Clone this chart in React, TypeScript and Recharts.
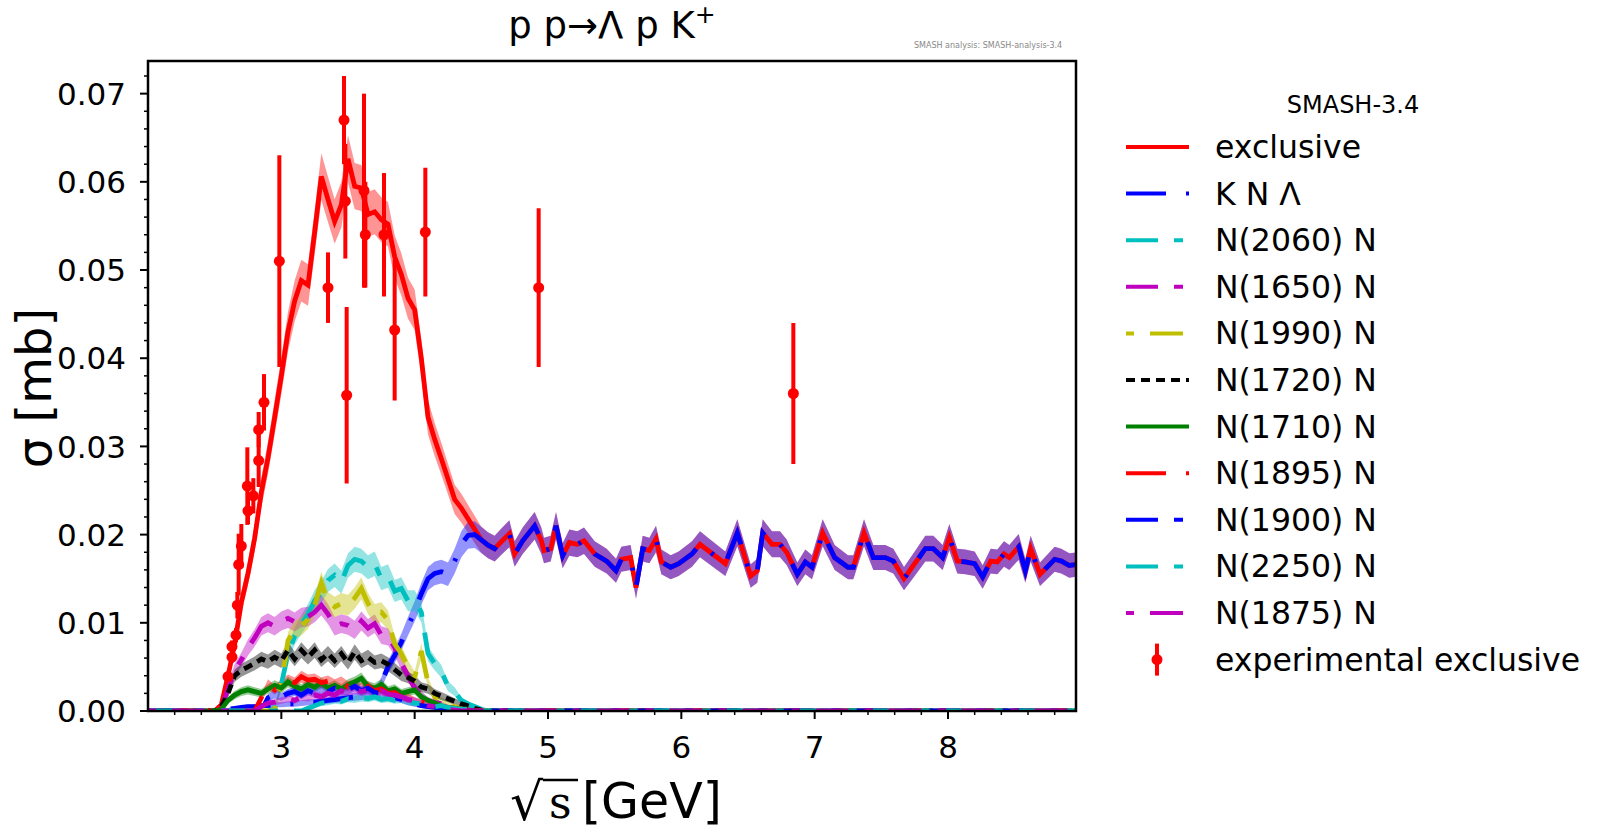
import React from "react";
import { ComposedChart, Line, Area, Scatter, ErrorBar, XAxis, YAxis } from "recharts";

// sqrt(s) grid [GeV] for all channels below 4.65 GeV
const GRID_X = [
  2.0, 2.5,
  2.55, 2.6, 2.65, 2.7, 2.75, 2.8, 2.85, 2.9, 2.95, 3.0,
  3.05, 3.1, 3.15, 3.2, 3.25, 3.3, 3.35, 3.4, 3.45, 3.5,
  3.55, 3.6, 3.65, 3.7, 3.75, 3.8, 3.85, 3.9, 3.95, 4.0,
  4.05, 4.1, 4.15, 4.2, 4.25, 4.3, 4.35, 4.4, 4.45, 4.5,
  4.55, 4.6,
];

// all cross sections in µb (axis prints mb)
const EXCLUSIVE_LOW = [
  0, 0,
  0.7, 4.0, 7.6, 12.3, 15.6, 19.6, 24.8, 28.7, 33.3, 38.0,
  43.0, 46.5, 48.8, 48.3, 54.3, 60.6, 58.0, 55.5, 57.4, 62.6,
  59.5, 59.3, 56.3, 56.6, 55.7, 55.2, 51.5, 49.5, 46.8, 45.5,
  40.0, 33.3, 30.8, 28.6, 26.3, 24.0, 23.0, 21.8, 20.6, 19.4,
  18.8, 18.4,
];
const KNL_LOW = [
  0, 0,
  0, 0.2, 0.3, 0.4, 0.5, 0.5, 0.6, 0.6, 0.7, 0.7,
  0.8, 0.8, 0.9, 1.0, 1.0, 1.1, 1.2, 1.3, 1.4, 1.5,
  1.6, 1.7, 1.8, 2.0, 3.2, 5.0, 6.3, 7.8, 9.6, 11.3,
  13.3, 15.0, 15.6, 15.8, 15.5, 17.0, 18.9, 19.9, 20.0, 19.4,
  18.8, 18.4,
];
const N2060 = [
  0, 0,
  0, 0, 0, 0, 0, 0, 0, 0, 0.3, 3.0,
  6.5, 8.5, 9.8, 11.0, 12.5, 13.5, 14.8, 15.4, 14.6, 16.5,
  17.2, 17.0, 16.3, 16.7, 15.0, 15.3, 13.6, 13.9, 12.5, 12.5,
  11.2, 6.5, 5.4, 4.5, 2.8, 2.2, 1.2, 0.8, 0.5, 0.2,
  0, 0,
];
const N1650 = [
  0, 0,
  0.3, 2.5, 4.6, 5.8, 7.2, 8.3, 9.6, 10.0, 9.6, 10.2,
  10.5, 10.1, 10.6, 10.7, 11.2, 12.0, 11.0, 9.6, 9.9, 9.7,
  9.2, 10.2, 9.4, 9.9, 8.6, 8.4, 7.2, 5.4, 4.0, 2.6,
  1.8, 1.2, 1.0, 0.8, 0.5, 0.3, 0.2, 0.1, 0, 0,
  0, 0,
];
const N1990 = [
  0, 0,
  0, 0, 0, 0, 0, 0, 0, 0, 0.2, 3.0,
  8.0, 9.2, 9.6, 10.4, 12.0, 14.5, 12.3, 11.8, 12.2, 12.0,
  12.8, 13.9, 12.2, 11.0, 11.2, 10.3, 7.6, 6.5, 5.0, 3.8,
  6.8, 3.2, 1.6, 1.2, 0.8, 0.5, 0.3, 0.1, 0, 0,
  0, 0,
];
const N1720 = [
  0, 0,
  0.5, 2.0, 4.0, 4.6, 5.0, 5.4, 5.9, 5.6, 6.1, 5.7,
  6.9, 5.9, 6.9, 6.1, 6.9, 5.8, 6.5, 5.7, 6.5, 5.5,
  6.7, 5.7, 6.1, 5.5, 5.7, 5.3, 4.7, 4.1, 3.8, 3.4,
  2.7, 2.5, 2.0, 1.7, 1.4, 1.1, 0.8, 0.6, 0.3, 0.1,
  0, 0,
];
const N1710 = [
  0, 0,
  0.2, 1.2, 1.8, 2.2, 2.4, 2.2, 2.0, 2.5, 2.9, 2.6,
  3.3, 2.8, 2.5, 3.0, 2.7, 3.2, 2.6, 2.9, 2.5, 3.0,
  3.3, 3.7, 2.8, 2.6, 3.0, 2.3, 2.5, 2.0, 2.2, 2.4,
  1.6, 1.2, 0.9, 0.6, 0.4, 0.3, 0.2, 0.1, 0, 0,
  0, 0,
];
const N1895 = [
  0, 0,
  0, 0, 0, 0, 0, 0, 1.5, 3.0, 2.4, 3.0,
  3.5, 3.2, 3.9, 3.5, 3.6, 3.2, 3.4, 3.0, 3.3, 2.8,
  3.0, 2.6, 2.8, 2.3, 2.5, 2.0, 2.1, 1.6, 1.6, 1.2,
  1.0, 0.8, 0.8, 0.5, 0.4, 0.3, 0.2, 0.1, 0, 0,
  0, 0,
];
const N1900 = [
  0, 0,
  0, 0, 0, 0, 0, 0, 0, 1.5, 1.9, 1.6,
  2.0, 2.2, 1.8, 2.3, 2.0, 2.5, 2.2, 2.6, 2.3, 2.4,
  2.8, 2.3, 2.6, 2.1, 2.0, 1.8, 1.5, 1.3, 1.0, 0.8,
  0.6, 0.5, 0.4, 0.3, 0.2, 0.1, 0, 0, 0, 0,
  0, 0,
];
const N2250 = [
  0, 0,
  0, 0, 0, 0, 0, 0, 0, 0, 0, 0,
  0, 0, 0, 0.3, 0.6, 0.9, 1.0, 1.2, 1.1, 1.4,
  1.3, 1.5, 1.4, 1.6, 1.3, 1.4, 1.2, 1.3, 1.0, 0.9,
  0.8, 0.6, 0.5, 0.6, 0.4, 0.3, 0.2, 0.2, 0.1, 0,
  0, 0,
];
const N1875 = [
  0, 0,
  0, 0, 0, 0, 0, 0, 0.5, 0.9, 1.0, 1.2,
  1.4, 1.2, 1.6, 1.5, 1.8, 1.6, 2.0, 1.8, 2.3, 2.1,
  2.5, 2.2, 2.4, 2.0, 2.3, 1.9, 1.8, 1.6, 1.3, 1.2,
  0.9, 0.6, 0.5, 0.3, 0.2, 0.1, 0, 0, 0, 0,
  0, 0,
];

// above 4.65 GeV exclusive and K N Λ are the same curve
const TAIL_X = [
  4.65, 4.71, 4.75, 4.81, 4.9, 4.95, 4.97, 5.02, 5.06, 5.11,
  5.16, 5.22, 5.27, 5.35, 5.44, 5.51, 5.55, 5.62, 5.66, 5.71,
  5.76, 5.81, 5.85, 5.92, 5.98, 6.08, 6.14, 6.2, 6.33, 6.42,
  6.52, 6.57, 6.61, 6.68, 6.74, 6.79, 6.87, 6.93, 6.98, 7.06,
  7.15, 7.25, 7.29, 7.37, 7.44, 7.53, 7.59, 7.67, 7.75, 7.83,
  7.89, 7.96, 8.01, 8.07, 8.13, 8.2, 8.26, 8.32, 8.37, 8.42,
  8.46, 8.53, 8.58, 8.62, 8.69, 8.8, 8.85, 8.91, 8.96,
];
const TAIL_Y = [
  19.2, 20.1, 17.8, 19.3, 21.0, 19.3, 18.2, 18.4, 21.0, 17.6,
  19.1, 18.9, 19.3, 17.8, 17.0, 15.9, 17.2, 17.4, 14.0, 18.4,
  18.2, 19.5, 16.9, 16.3, 16.7, 17.8, 18.9, 18.2, 16.7, 20.2,
  15.3, 15.9, 20.2, 18.9, 18.9, 18.0, 15.5, 16.9, 16.3, 20.2,
  17.4, 16.3, 16.3, 20.2, 17.4, 17.4, 17.0, 15.0, 16.7, 18.4,
  18.4, 17.4, 19.7, 17.0, 16.9, 16.7, 15.2, 17.0, 16.9, 17.8,
  17.4, 18.6, 15.9, 18.4, 15.5, 17.2, 17.0, 16.5, 16.6,
];
// resonance channels stay at zero out to the right edge
const END_X = 8.96;

const EXP_X = [2.6, 2.63, 2.63, 2.66, 2.67, 2.68, 2.7, 2.745, 2.75, 2.79, 2.83, 2.83, 2.87, 2.985, 3.35, 3.47, 3.48, 3.49, 3.62, 3.63, 3.77, 3.85, 4.08, 4.93, 6.84];
const EXP_Y = [3.9, 6.1, 7.3, 8.6, 12.0, 16.6, 18.7, 25.5, 22.7, 24.4, 28.4, 31.9, 35.0, 51.0, 48.0, 67.0, 57.8, 35.8, 59.0, 54.0, 54.0, 43.2, 54.3, 48.0, 36.0];
const EXP_ERR = [0.5, 0.6, 0.7, 0.8, 1.5, 3.5, 2.5, 4.4, 1.5, 2.0, 3.0, 2.0, 3.2, 12.0, 4.0, 5.0, 6.5, 10.0, 11.0, 6.0, 7.0, 8.0, 7.3, 9.0, 8.0];

const X_MAJOR = [3, 4, 5, 6, 7, 8];
const X_MINOR = [2.2, 2.4, 2.6, 2.8, 3.2, 3.4, 3.6, 3.8, 4.2, 4.4, 4.6, 4.8, 5.2, 5.4, 5.6, 5.8, 6.2, 6.4, 6.6, 6.8, 7.2, 7.4, 7.6, 7.8, 8.2, 8.4, 8.6, 8.8];
const Y_MAJOR = [0, 10, 20, 30, 40, 50, 60, 70];
const Y_MINOR = [2, 4, 6, 8, 12, 14, 16, 18, 22, 24, 26, 28, 32, 34, 36, 38, 42, 44, 46, 48, 52, 54, 56, 58, 62, 64, 66, 68, 72];

// shaded bands are about 0.34*sqrt(sigma[µb]) wide on each side
const BAND_K = 0.34;

const X_DOMAIN = [2, 8.96];
const PLOT_LEFT = 148;
const PLOT_TOP = 61;
const PLOT_W = 928;
const PLOT_H = 650;
const PLOT_BOTTOM = PLOT_TOP + PLOT_H;

const FONT = "DejaVu Sans";
const TICK_FONT = 31;
const LEG_FONT = 31.5;

const LOW_PLUS_END = [...GRID_X, END_X];
const FULL_X = [...GRID_X, ...TAIL_X];

const SERIES = [
  { name: "exclusive", color: "#ff0000", dash: undefined, xs: FULL_X, ys: [...EXCLUSIVE_LOW, ...TAIL_Y] },
  { name: "K N Λ", color: "#0000ff", dash: "40 20 3 20", xs: FULL_X, ys: [...KNL_LOW, ...TAIL_Y] },
  { name: "N(2060) N", color: "#00bfbf", dash: "32 16 9 16", xs: LOW_PLUS_END, ys: [...N2060, 0] },
  { name: "N(1650) N", color: "#bf00bf", dash: "32 16 9 16", xs: LOW_PLUS_END, ys: [...N1650, 0] },
  { name: "N(1990) N", color: "#bfbf00", dash: "8 16 33 16", xs: LOW_PLUS_END, ys: [...N1990, 0] },
  { name: "N(1720) N", color: "#000000", dash: "9 6", xs: LOW_PLUS_END, ys: [...N1720, 0] },
  { name: "N(1710) N", color: "#008000", dash: undefined, xs: LOW_PLUS_END, ys: [...N1710, 0] },
  { name: "N(1895) N", color: "#ff0000", dash: "40 20 3 20", xs: LOW_PLUS_END, ys: [...N1895, 0] },
  { name: "N(1900) N", color: "#0000ff", dash: "32 16 9 16", xs: LOW_PLUS_END, ys: [...N1900, 0] },
  { name: "N(2250) N", color: "#00bfbf", dash: "32 16 9 16", xs: LOW_PLUS_END, ys: [...N2250, 0] },
  { name: "N(1875) N", color: "#bf00bf", dash: "8 16 33 16", xs: LOW_PLUS_END, ys: [...N1875, 0] },
];

const seriesRows = SERIES.map((s) =>
  s.xs.map((x, i) => {
    const v = s.ys[i];
    const e = BAND_K * Math.sqrt(v);
    return { x, v, band: [v - e, v + e] };
  })
);

const expRows = EXP_X.map((x, i) => ({ x, y: EXP_Y[i], err: EXP_ERR[i] }));

const XTick = (props: any) => {
  const { x, payload } = props;
  const major = X_MAJOR.includes(payload.value);
  return (
    <g>
      <line x1={x} x2={x} y1={PLOT_BOTTOM} y2={PLOT_BOTTOM + (major ? 8 : 4)} stroke="#000" strokeWidth={major ? 2 : 1.5} />
      {major && (
        <text x={x} y={PLOT_BOTTOM + 24} dy="0.74em" textAnchor="middle" fontSize={TICK_FONT} fontFamily={FONT} fill="#000">
          {payload.value}
        </text>
      )}
    </g>
  );
};

const YTick = (props: any) => {
  const { y, payload } = props;
  const major = Y_MAJOR.includes(payload.value);
  return (
    <g>
      <line x1={PLOT_LEFT - (major ? 8 : 4)} x2={PLOT_LEFT} y1={y} y2={y} stroke="#000" strokeWidth={major ? 2 : 1.5} />
      {major && (
        <text x={PLOT_LEFT - 22} y={y} dy="0.36em" textAnchor="end" fontSize={TICK_FONT} fontFamily={FONT} fill="#000">
          {(payload.value / 1000).toFixed(2)}
        </text>
      )}
    </g>
  );
};

const LEG_Y0 = 147;
const LEG_DY = 46.6;

export default function App() {
  return (
    <div style={{ position: "absolute", left: 0, top: 0, width: 1600, height: 836, fontFamily: FONT, background: "#fff" }}>
      <ComposedChart
        width={1600}
        height={836}
        margin={{ top: PLOT_TOP, right: 1600 - PLOT_LEFT - PLOT_W, bottom: 836 - PLOT_BOTTOM - 60, left: PLOT_LEFT - 100 }}
      >
        <XAxis
          dataKey="x"
          type="number"
          domain={X_DOMAIN}
          allowDataOverflow
          ticks={[...X_MAJOR, ...X_MINOR]}
          interval={0}
          tick={<XTick />}
          tickLine={false}
          axisLine={false}
          height={60}
        />
        <YAxis
          type="number"
          domain={[0, 73.7]}
          allowDataOverflow
          ticks={[...Y_MAJOR, ...Y_MINOR]}
          interval={0}
          tick={<YTick />}
          tickLine={false}
          axisLine={false}
          width={100}
        />
        {SERIES.map((s, i) => (
          <Area
            key={`band-${s.name}-${i}`}
            data={seriesRows[i]}
            dataKey="band"
            type="linear"
            stroke="none"
            fill={s.color}
            fillOpacity={0.42}
            activeDot={false}
            isAnimationActive={false}
          />
        ))}
        {SERIES.map((s, i) => (
          <Line
            key={`line-${s.name}-${i}`}
            data={seriesRows[i]}
            dataKey="v"
            type="linear"
            stroke={s.color}
            strokeWidth={4.8}
            strokeDasharray={s.dash}
            dot={false}
            activeDot={false}
            isAnimationActive={false}
          />
        ))}
        <Scatter
          data={expRows}
          dataKey="y"
          fill="#ff0000"
          isAnimationActive={false}
          shape={(p: any) => <circle cx={p.cx} cy={p.cy} r={5.5} fill="#ff0000" />}
        >
          <ErrorBar dataKey="err" direction="y" width={0} stroke="#ff0000" strokeWidth={4} />
        </Scatter>
      </ComposedChart>

      <svg
        width={1600}
        height={836}
        style={{ position: "absolute", left: 0, top: 0, pointerEvents: "none" }}
        fontFamily={FONT}
      >
        <rect x={PLOT_LEFT} y={PLOT_TOP} width={PLOT_W} height={PLOT_H} fill="none" stroke="#000" strokeWidth={2.5} />

        <text x={PLOT_LEFT + PLOT_W / 2} y={38} textAnchor="middle" fontSize={37} fill="#000">
          p p→Λ p K<tspan dy={-15} fontSize={25}>+</tspan>
        </text>
        <text x={914} y={48} fontSize={8} fill="#888">
          SMASH analysis: SMASH-analysis-3.4
        </text>

        <text transform="translate(34 388) rotate(-90)" textAnchor="middle" dy="0.35em" fontSize={48} fill="#000">
          σ [mb]
        </text>

        <text x={510} y={820} fontSize={52} fill="#000">√</text>
        <line x1={543} x2={578} y1={780} y2={780} stroke="#000" strokeWidth={2.5} />
        <text x={549} y={818} fontSize={44} fontFamily="DejaVu Serif" fill="#000">s</text>
        <text x={582} y={818} fontSize={49} fill="#000">[GeV]</text>

        <text x={1353} y={105} dy="0.35em" textAnchor="middle" fontSize={24} fill="#000">
          SMASH-3.4
        </text>
        {SERIES.map((s, i) => {
          const y = LEG_Y0 + i * LEG_DY;
          return (
            <g key={`leg-${s.name}-${i}`}>
              <line x1={1126} x2={1189} y1={y} y2={y} stroke={s.color} strokeWidth={4} strokeDasharray={s.dash} />
              <text x={1215} y={y} dy="0.35em" fontSize={LEG_FONT} fill="#000">
                {s.name}
              </text>
            </g>
          );
        })}
        <g>
          <line x1={1157} x2={1157} y1={LEG_Y0 + 11 * LEG_DY - 16} y2={LEG_Y0 + 11 * LEG_DY + 16} stroke="#ff0000" strokeWidth={4} />
          <circle cx={1157} cy={LEG_Y0 + 11 * LEG_DY} r={5.5} fill="#ff0000" />
          <text x={1215} y={LEG_Y0 + 11 * LEG_DY} dy="0.35em" fontSize={LEG_FONT} fill="#000">
            experimental exclusive
          </text>
        </g>
      </svg>
    </div>
  );
}
